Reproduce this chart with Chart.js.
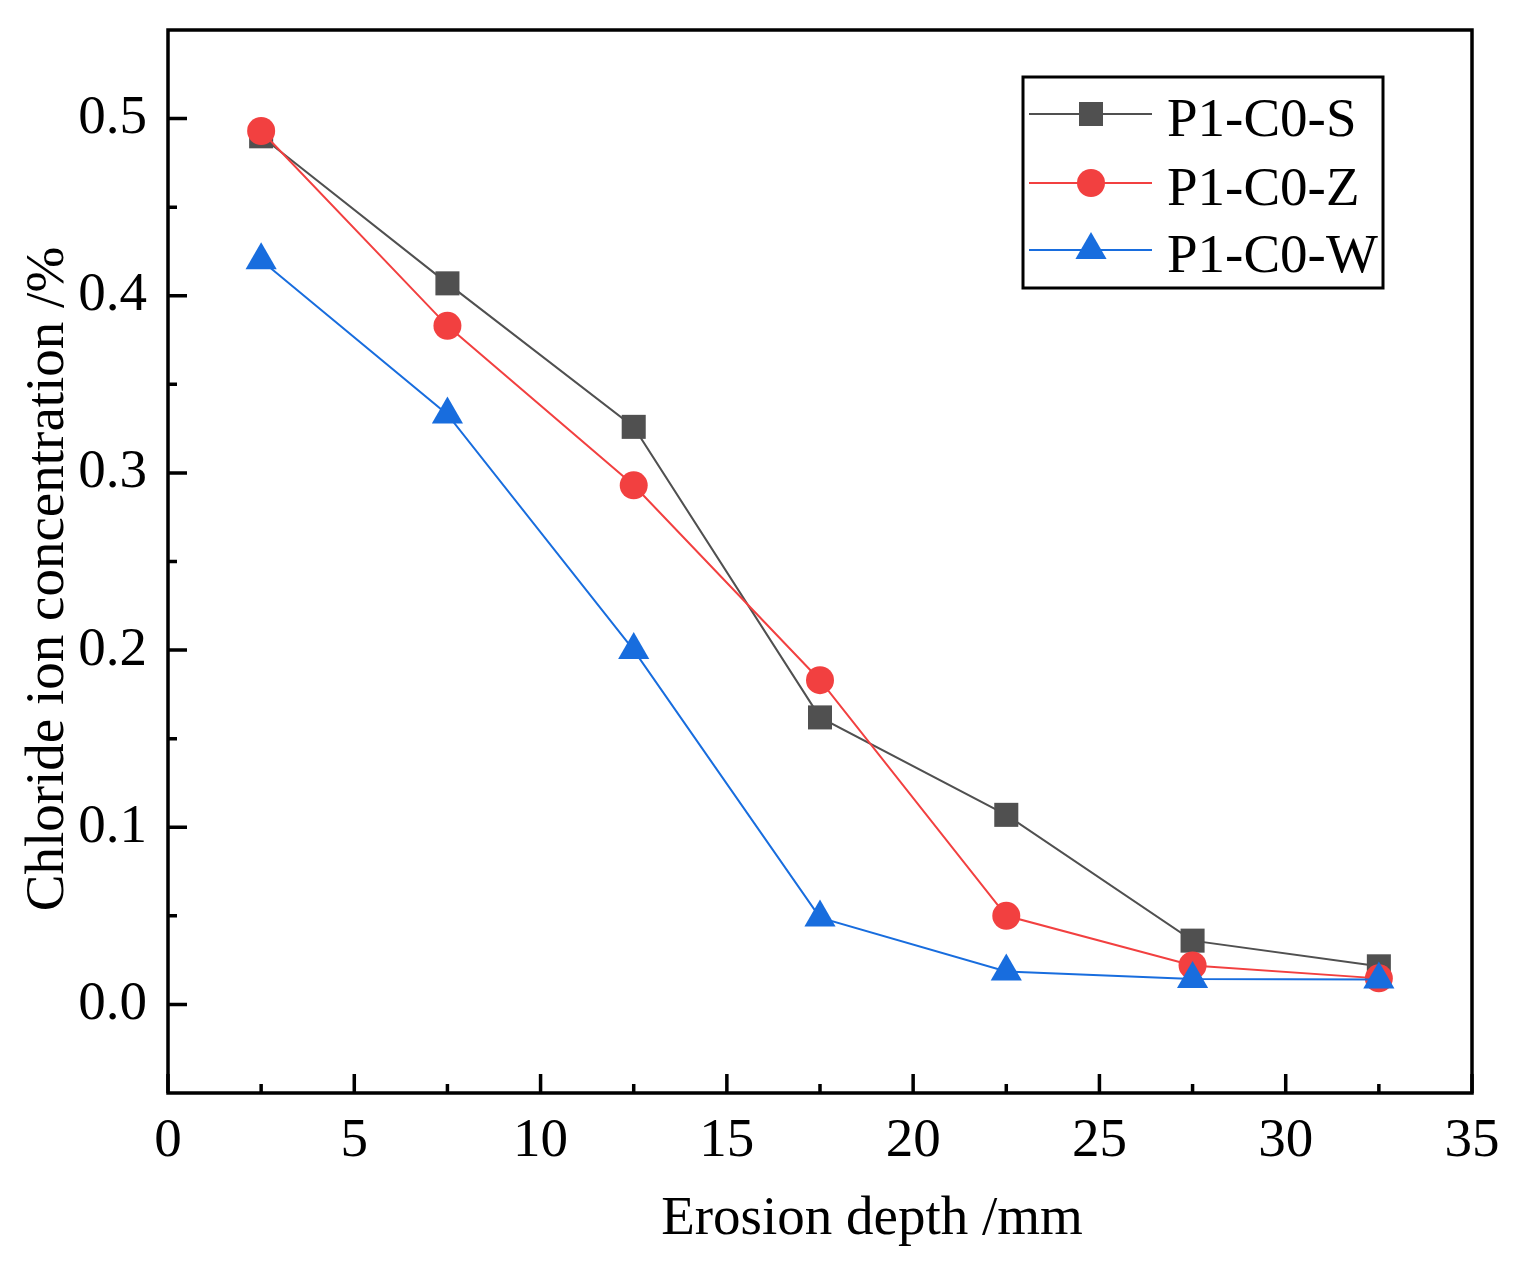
<!DOCTYPE html>
<html><head><meta charset="utf-8">
<script src="https://cdn.jsdelivr.net/npm/chart.js@4.4.1/dist/chart.umd.min.js"></script>
<style>html,body{margin:0;padding:0;background:#fff;overflow:hidden;} #wrap{width:1520px;height:1266px;}</style>
</head><body><div id="wrap"><canvas id="c" width="1520" height="1266"></canvas></div>
<script>
// ---- data ----
const depths = [2.5, 7.5, 12.5, 17.5, 22.5, 27.5, 32.5];
const seriesS = [0.490, 0.407, 0.326, 0.162, 0.107, 0.036, 0.0215];
const seriesZ = [0.493, 0.383, 0.293, 0.183, 0.050, 0.022, 0.0147];
const seriesW = [0.420, 0.333, 0.200, 0.049, 0.0186, 0.0143, 0.0140];
const seriesNames = ['P1-C0-S', 'P1-C0-Z', 'P1-C0-W'];
const xTickValues = [0, 5, 10, 15, 20, 25, 30, 35];
const yTickValues = [0, 0.1, 0.2, 0.3, 0.4, 0.5];
const xTitle = 'Erosion depth /mm';
const yTitle = 'Chloride ion concentration /%';

// ---- styles ----
const FONT = '"Liberation Serif", "Times New Roman", serif';
const colors = ['#505050', '#f24040', '#186dde'];
const styles = ['rect', 'circle', 'triangle'];
const radii = [17, 14, 18];

function pts(vals) { return depths.map((x, i) => ({ x: x, y: vals[i] })); }
const allSeries = [seriesS, seriesZ, seriesW];

const datasets = allSeries.map((vals, i) => ({
  label: seriesNames[i],
  data: pts(vals),
  borderColor: colors[i],
  backgroundColor: colors[i],
  pointBackgroundColor: colors[i],
  pointBorderColor: colors[i],
  pointBorderWidth: 0,
  pointStyle: styles[i],
  pointRadius: radii[i],
  pointHoverRadius: radii[i],
  borderWidth: 2,
  tension: 0,
  fill: false,
  order: 3 - i
}));

const frameTicks = {
  id: 'frameTicks',
  afterDraw(chart) {
    const ctx = chart.ctx, a = chart.chartArea;
    const xs = chart.scales.x, ys = chart.scales.y;
    ctx.save();
    ctx.strokeStyle = '#000';
    ctx.lineWidth = 3.5;
    ctx.beginPath();
    xTickValues.forEach((v, i) => {
      const px = xs.getPixelForValue(v);
      ctx.moveTo(px, a.bottom); ctx.lineTo(px, a.bottom - 19);
      if (i < xTickValues.length - 1) {
        const m = xs.getPixelForValue((v + xTickValues[i + 1]) / 2);
        ctx.moveTo(m, a.bottom); ctx.lineTo(m, a.bottom - 9);
      }
    });
    yTickValues.forEach((v, i) => {
      const py = ys.getPixelForValue(v);
      ctx.moveTo(a.left, py); ctx.lineTo(a.left + 19, py);
      if (i < yTickValues.length - 1) {
        const m = ys.getPixelForValue((v + yTickValues[i + 1]) / 2);
        ctx.moveTo(a.left, m); ctx.lineTo(a.left + 9, m);
      }
    });
    ctx.stroke();
    ctx.strokeRect(a.left, a.top, a.right - a.left, a.bottom - a.top);

    // axis titles
    ctx.fillStyle = '#000';
    ctx.font = '55px ' + FONT;
    ctx.textAlign = 'center';
    ctx.textBaseline = 'alphabetic';
    ctx.fillText(xTitle, 872, 1234);
    ctx.save();
    ctx.translate(63, 579);
    ctx.rotate(-Math.PI / 2);
    ctx.fillText(yTitle, 0, 0);
    ctx.restore();

    // legend
    const box = { l: 1023, t: 77, r: 1383, b: 288 };
    const rows = [114, 183, 250];
    ctx.lineWidth = 3;
    ctx.strokeRect(box.l, box.t, box.r - box.l, box.b - box.t);
    chart.data.datasets.forEach((ds, i) => {
      const y = rows[i];
      ctx.strokeStyle = ds.borderColor;
      ctx.lineWidth = 2;
      ctx.beginPath();
      ctx.moveTo(1029, y); ctx.lineTo(1152, y);
      ctx.stroke();
      ctx.fillStyle = ds.pointBackgroundColor;
      Chart.helpers.drawPoint(ctx, { pointStyle: ds.pointStyle, radius: ds.pointRadius, rotation: 0, borderWidth: 0 }, 1091, y);
      ctx.fillStyle = '#000';
      ctx.font = '55px ' + FONT;
      ctx.textAlign = 'left';
      ctx.textBaseline = 'alphabetic';
      ctx.fillText(ds.label, 1167, y + 22);
    });
    ctx.restore();
  }
};

function noPad(s) { s.paddingTop = 0; s.paddingBottom = 0; s.paddingLeft = 0; s.paddingRight = 0; }

new Chart(document.getElementById('c'), {
  type: 'line',
  data: { datasets: datasets },
  options: {
    responsive: false,
    devicePixelRatio: 1,
    animation: false,
    layout: { padding: { top: 30, right: 48, left: 0, bottom: 0 } },
    plugins: { legend: { display: false }, tooltip: { enabled: false } },
    scales: {
      x: {
        type: 'linear', min: 0, max: 35,
        afterBuildTicks: s => { s.ticks = xTickValues.map(v => ({ value: v })); },
        afterFit: s => { s.height = 173; noPad(s); },
        grid: { display: false, drawTicks: false },
        border: { display: false },
        ticks: { color: '#000', font: { family: FONT, size: 55 }, padding: 16, maxRotation: 0, autoSkip: false, callback: v => String(v) }
      },
      y: {
        type: 'linear', min: -0.05, max: 0.55,
        afterBuildTicks: s => { s.ticks = yTickValues.map(v => ({ value: v })); },
        afterFit: s => { s.width = 168; noPad(s); },
        grid: { display: false, drawTicks: false },
        border: { display: false },
        ticks: { color: '#000', font: { family: FONT, size: 55 }, padding: 21, autoSkip: false, callback: v => Number(v).toFixed(1) }
      }
    }
  },
  plugins: [frameTicks]
});
</script>
</body></html>
